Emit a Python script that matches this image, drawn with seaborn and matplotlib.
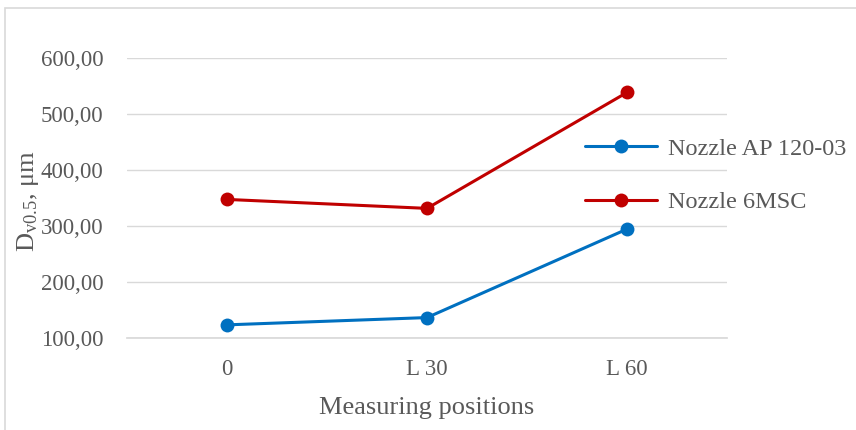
import matplotlib
matplotlib.use("Agg")
import matplotlib.pyplot as plt
import seaborn as sns
import pandas as pd
from matplotlib.patches import Rectangle

positions = ["0", "L 30", "L 60"]
nozzle_ap = [124, 137, 295]
nozzle_6msc = [348, 332, 539]
series_names = ["Nozzle AP 120-03", "Nozzle 6MSC"]
yticks = [100, 200, 300, 400, 500, 600]

df = pd.DataFrame({
    "pos": positions * 2,
    "val": nozzle_ap + nozzle_6msc,
    "series": [series_names[0]] * 3 + [series_names[1]] * 3,
})

sns.set_theme(style="white")
plt.rcParams["font.family"] = ["Liberation Serif", "DejaVu Serif"]
plt.rcParams["mathtext.default"] = "regular"
txt = "#595959"

W, H = 856, 430
fig = plt.figure(figsize=(W / 100, H / 100), dpi=100)
ax = fig.add_axes([127 / W, 1 - 338.3 / H, (727 - 127) / W, (338.3 - 58.3) / H])

sns.lineplot(data=df, x="pos", y="val", hue="series", palette=["#0070C0", "#C00000"],
             marker="o", markersize=10, markeredgewidth=0, linewidth=2.2, sort=False, ax=ax)

ax.set_xlim(-0.5, 2.5)
ax.set_ylim(100, 600)
ax.set_yticks(yticks)
ax.set_yticklabels([f"{v:.2f}".replace(".", ",") for v in yticks])
ax.yaxis.grid(True, color="#d9d9d9", linewidth=1)
ax.set_axisbelow(True)
for s in ["top", "right", "left"]:
    ax.spines[s].set_visible(False)
ax.spines["bottom"].set_color("#d9d9d9")
ax.tick_params(axis="both", length=0, colors=txt, labelsize=16.5)
ax.tick_params(axis="y", pad=17)
ax.tick_params(axis="x", pad=15)
ax.set_xlabel("Measuring positions", fontsize=19, color=txt, labelpad=12)
ax.set_ylabel("D$_{v0.5}$, μm", fontsize=19, color=txt)
ax.yaxis.set_label_coords((41 - 127) / 600, 0.49)

leg = ax.legend(loc="center left", bbox_to_anchor=(585 / W, 1 - 175.5 / H),
                bbox_transform=fig.transFigure, frameon=False, fontsize=17.5,
                borderpad=0, borderaxespad=0,
                handlelength=2.96, handletextpad=0.45, labelspacing=1.3)
for t in leg.get_texts():
    t.set_color(txt)

fig.patches.append(Rectangle((5 / W, -0.1), 1.2, 1 - 8 / H + 0.1, transform=fig.transFigure,
                             fill=False, edgecolor="#d9d9d9", linewidth=1.2, zorder=-1))

fig.savefig("out.png", dpi=100)
